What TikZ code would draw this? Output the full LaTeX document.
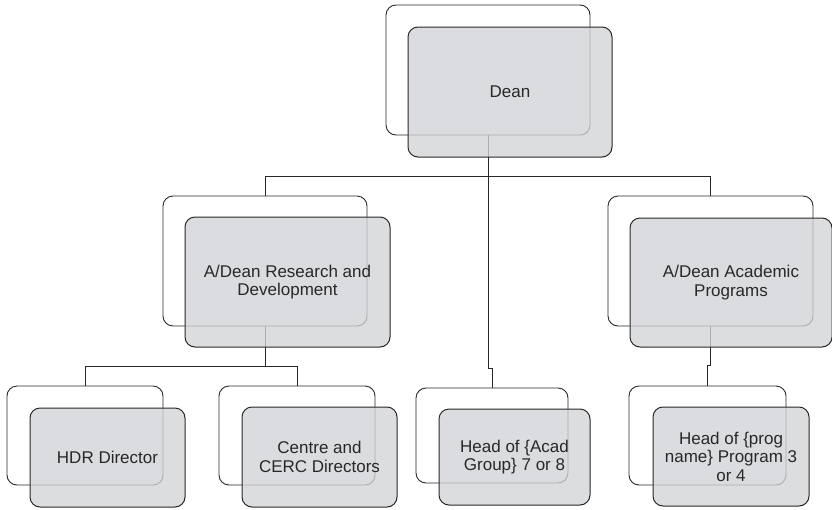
\documentclass[tikz,border=0pt]{standalone}
\usepackage{fontspec}
\setmainfont{Liberation Sans}
\definecolor{boxgray}{RGB}{210,211,214}
\definecolor{inkgray}{RGB}{40,40,40}
\tikzset{
  backbox/.style={draw=inkgray, line width=0.9pt, rounded corners=10pt, fill=white, inner sep=0pt},
  frontbox/.style={draw=inkgray, line width=1pt, rounded corners=10pt, fill=boxgray,
    fill opacity=0.78, text opacity=1, text=inkgray, align=center, inner sep=0pt,
    font=\fontsize{17}{18.5}\selectfont},
  conn/.style={draw=inkgray, line width=0.9pt},
}
\begin{document}
\begin{tikzpicture}[x=1pt, y=-1pt]
\useasboundingbox (0,0) rectangle (832,509);
\clip (0,0) rectangle (832,509);

% rear outlines of each post
\node[backbox, minimum width=204pt, minimum height=130pt] (deanB) at (488,70) {};
\node[backbox, minimum width=204pt, minimum height=130pt] (rdB) at (265,261) {};
\node[backbox, minimum width=205pt, minimum height=130pt] (acB) at (710.5,261) {};
\node[backbox, minimum width=156pt, minimum height=99pt] (hdrB) at (85,435.5) {};
\node[backbox, minimum width=156pt, minimum height=99pt] (ceB) at (297,435.5) {};
\node[backbox, minimum width=152pt, minimum height=95pt] (haB) at (492,435.5) {};
\node[backbox, minimum width=157pt, minimum height=99pt] (pgB) at (707.5,435.5) {};

% reporting lines
\draw[conn] (rdB.north) -- ++(0,-19) -| (acB.north);
\draw[conn] (deanB.south) -- ++(0,233) -| (haB.north);
\draw[conn] (rdB.south) -- ++(0,41);
\draw[conn] (hdrB.north) -- ++(0,-19) -| (ceB.north);
\draw[conn] (acB.south) -- ++(0,39) -| (pgB.north);

% front cards with titles
\node[frontbox, minimum width=204pt, minimum height=130pt] (dean) at (510,92) {Dean};
\node[frontbox, minimum width=205pt, minimum height=130pt] (rd) at (287.5,282) {A/Dean Research and\\Development};
\node[frontbox, minimum width=202pt, minimum height=129pt] (ac) at (731,282.5) {A/Dean Academic\\Programs};
\node[frontbox, minimum width=155pt, minimum height=99pt] (hdr) at (107.5,457.5) {HDR Director};
\node[frontbox, minimum width=155pt, minimum height=100pt] (ce) at (319.5,457) {Centre and\\CERC Directors};
\node[frontbox, minimum width=151pt, minimum height=96pt] (ha) at (514.5,457) {Head of \{Acad\\Group\} 7 or 8};
\node[frontbox, minimum width=156pt, minimum height=99pt] (pg) at (731,456.5) {Head of \{prog\\name\} Program 3\\or 4};
\end{tikzpicture}
\end{document}
